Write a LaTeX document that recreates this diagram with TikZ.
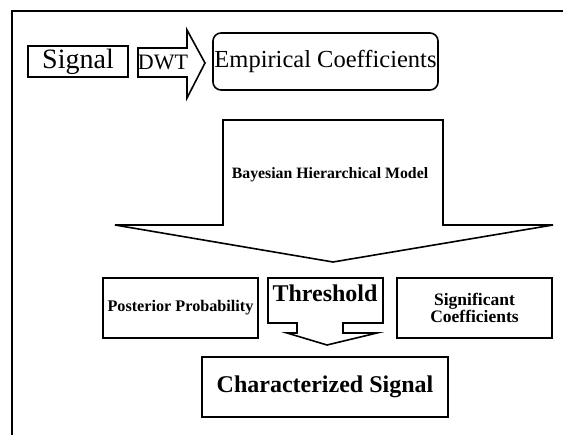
\documentclass[tikz,border=0pt]{standalone}
\usepackage{fontspec}
\setmainfont{Liberation Serif}
\begin{document}
\begin{tikzpicture}[x=1pt,y=-1pt,
  box/.style={draw,line width=1.6pt,inner sep=0pt,align=center},
  shapeline/.style={draw,line width=1.6pt,line join=miter},
  frameline/.style={line width=2.6pt},
  lbl/.style={inner sep=0pt,align=center}]
\useasboundingbox (0,0) rectangle (563,435);
% open frame
\coordinate (fbl) at (12,435);
\coordinate (ftl) at (12,11);
\coordinate (ftr) at (563,11);
\draw[frameline] (fbl) -- (ftl) -- (ftr);
% Signal
\node[box,minimum width=100pt,minimum height=31pt,font=\fontsize{28}{30}\selectfont] (sig) at (78,61.5) {Signal};
% DWT arrow
\draw[shapeline] (138,48) -- (187,48) -- (187,30) -- (205,63) -- (187,98) -- (187,77) -- (138,77) -- cycle;
\node[lbl,font=\fontsize{22}{23}\selectfont] (dwt) at (163,62.5) {DWT};
% Empirical coefficients
\node[box,rounded corners=8pt,minimum width=225pt,minimum height=57pt,font=\fontsize{24.5}{26}\selectfont] (emp) at (325.5,61.5) {Empirical Coefficients};
% Big arrow
\draw[shapeline] (223,120) -- (443,120) -- (443,225) -- (553,225) -- (333,262) -- (115,225) -- (223,225) -- cycle;
\node[lbl,font=\fontsize{15.8}{17}\selectfont\bfseries] (bhm) at (330,175) {Bayesian Hierarchical Model};
% Posterior
\node[box,minimum width=155pt,minimum height=60pt,font=\fontsize{16.2}{17}\selectfont\bfseries] (post) at (180.5,308) {Posterior Probability};
% Threshold callout arrow
\draw[shapeline] (268,278) -- (383,278) -- (383,323) -- (343,323) -- (343,333) -- (377,333) -- (327,345) -- (287,333) -- (297,333) -- (297,323) -- (268,323) -- cycle;
\node[lbl,font=\fontsize{24}{25}\selectfont\bfseries] (thr) at (325,293) {Threshold};
% Significant
\node[box,minimum width=155pt,minimum height=60pt,font=\fontsize{17.5}{17.5}\selectfont\bfseries] (sigc) at (474.5,308) {Significant\\Coefficients};
% Characterized
\node[box,minimum width=246pt,minimum height=60pt,font=\fontsize{24}{25}\selectfont\bfseries] (chs) at (325,387) {Characterized Signal};
\end{tikzpicture}
\end{document}
